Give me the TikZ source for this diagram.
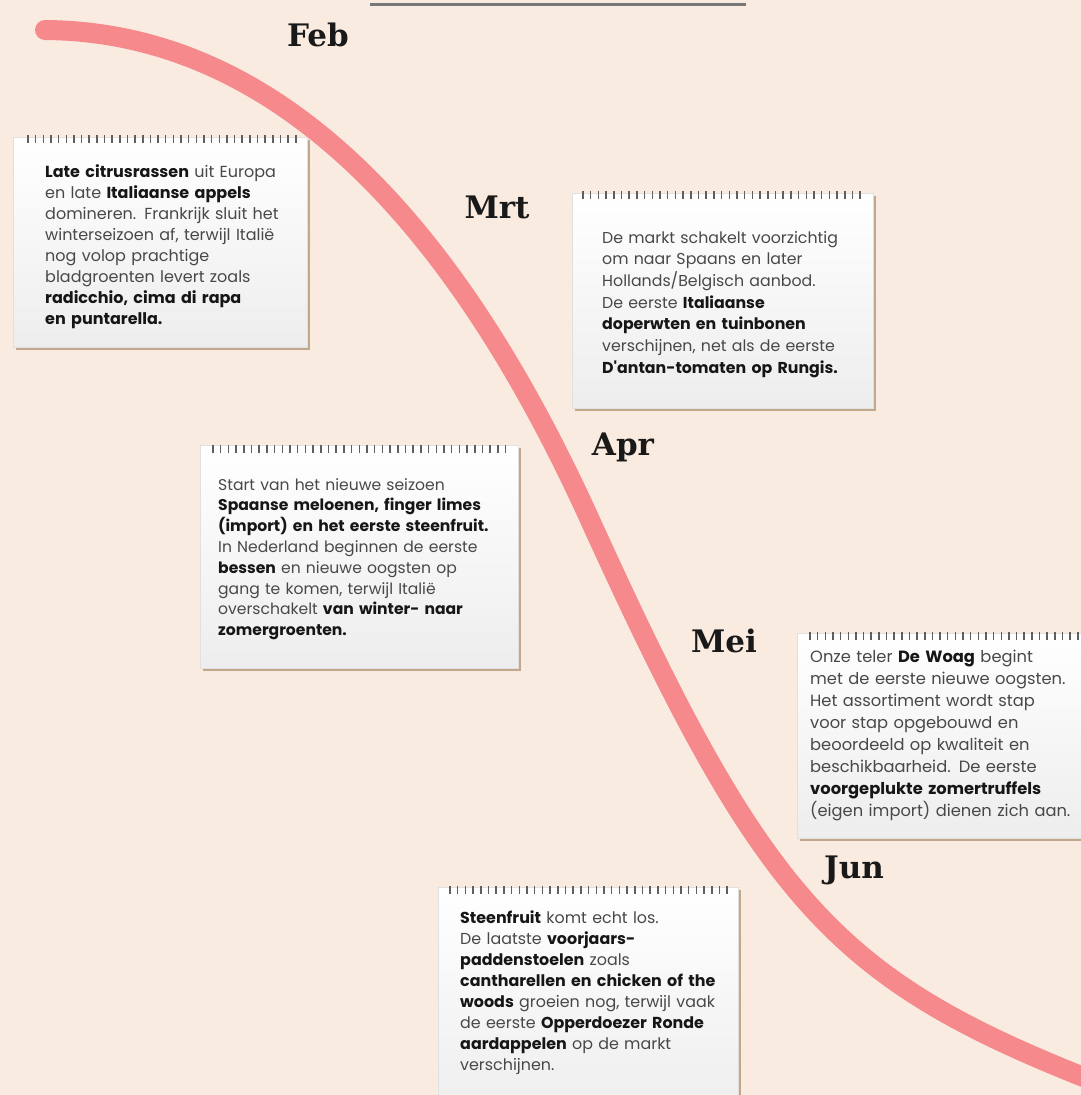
\documentclass[tikz,border=0pt]{standalone}
\usepackage{fontspec}
\usepackage{xcolor}
\usepackage{tikz}
\usetikzlibrary{shadows}
\usetikzlibrary{positioning}

\newfontfamily\kaartfont{Poppins}
\newfontfamily\maandfont{DejaVu Serif}

\definecolor{achtergrond}{RGB}{250,235,225}
\definecolor{lijnroze}{RGB}{245,137,139}
\definecolor{lijngrijs}{RGB}{120,120,120}
\definecolor{ringgrijs}{RGB}{95,95,95}
\definecolor{schaduw}{RGB}{170,140,105}
\definecolor{tekstgrijs}{RGB}{72,72,72}
\definecolor{tekstdonker}{RGB}{22,22,22}

\newcommand{\vet}[1]{\textbf{\color{tekstdonker}#1}}

\tikzset{
  maand/.style={font=\maandfont\bfseries\fontsize{31}{31}\selectfont, text=black!90, anchor=base, inner sep=0pt},
  kaart/.style={anchor=north west, draw=black!12, line width=0.6pt, top color=white, bottom color=black!7,
    drop shadow={shadow xshift=2.5pt, shadow yshift=-3pt, fill=schaduw, opacity=0.7}, inner sep=0pt},
  kaarttekst/.style 2 args={anchor=base west, inner sep=0pt, text width=420pt, align=left,
    text=tekstgrijs, font=\kaartfont\fontsize{#1}{#2}\selectfont},
  ring/.style={draw=ringgrijs, line width=1.5pt},
  seizoen/.style={draw=lijnroze, line width=20pt, line cap=round},
}

\begin{document}
\begin{tikzpicture}[x=1pt, y=-1pt]

       \fill[achtergrond] (0,0) rectangle (1081,1095);
       \useasboundingbox (0,0) rectangle (1081,1095);
       \clip (0,0) rectangle (1081,1095);

       \draw[lijngrijs, line width=3pt] (370,4) -- (746,4);

       % de seizoenslijn
       \draw[seizoen] (45,30) .. controls (320,32) and (490,300) .. (590,520)
                              .. controls (760,894) and (831,976) .. (1081,1076) -- (1121,1092);

       \node[kaart, minimum width=294pt, minimum height=210pt] (kaartfeb) at (13,137) {};
       \node[kaart, minimum width=301pt, minimum height=215pt] (kaartmrt) at (572,193) {};
       \node[kaart, minimum width=318pt, minimum height=223pt] (kaartapr) at (200,445) {};
       \node[kaart, minimum width=300pt, minimum height=205pt] (kaartmei) at (797,633) {};
       \node[kaart, minimum width=300pt, minimum height=230pt] (kaartjun) at (438,887) {};

       \foreach \i in {0,...,35} \draw[ring] ({28+7.65*\i},135) -- ++(0,8);
       \foreach \i in {0,...,36} \draw[ring] ({583+7.7*\i},191) -- ++(0,8);
       \foreach \i in {0,...,38} \draw[ring] ({213+7.7*\i},445) -- ++(0,8);
       \foreach \i in {0,...,35} \draw[ring] ({810+7.65*\i},632) -- ++(0,8);
       \foreach \i in {0,...,36} \draw[ring] ({450+7.7*\i},886) -- ++(0,8);

       \node[kaarttekst={16}{21}] (tekstfeb) at (45,177) {\vet{Late citrusrassen} uit Europa\\
         en late \vet{Italiaanse appels}\\
         domineren. Frankrijk sluit het\\
         winterseizoen af, terwijl Italië\\
         nog volop prachtige\\
         bladgroenten levert zoals\\
         \vet{radicchio, cima di rapa}\\
         \vet{en puntarella.}};
       \node[kaarttekst={15.8}{21.7}] (tekstmrt) at (602,243) {De markt schakelt voorzichtig\\
         om naar Spaans en later\\
         Hollands/Belgisch aanbod.\\
         De eerste \vet{Italiaanse}\\
         \vet{doperwten en tuinbonen}\\
         verschijnen, net als de eerste\\
         \vet{D'antan-tomaten op Rungis.}};
       \node[kaarttekst={15.6}{20.8}] (tekstapr) at (218,490) {Start van het nieuwe seizoen\\
         \vet{Spaanse meloenen, finger limes}\\
         \vet{(import) en het eerste steenfruit.}\\
         In Nederland beginnen de eerste\\
         \vet{bessen} en nieuwe oogsten op\\
         gang te komen, terwijl Italië\\
         overschakelt \vet{van winter- naar}\\
         \vet{zomergroenten.}};
       \node[kaarttekst={16.3}{22.1}] (tekstmei) at (810,662) {Onze teler \vet{De Woag} begint\\
         met de eerste nieuwe oogsten.\\
         Het assortiment wordt stap\\
         voor stap opgebouwd en\\
         beoordeeld op kwaliteit en\\
         beschikbaarheid. De eerste\\
         \vet{voorgeplukte zomertruffels}\\
         (eigen import) dienen zich aan.};
       \node[kaarttekst={15.9}{21}] (tekstjun) at (460,923) {\vet{Steenfruit} komt echt los.\\
         De laatste \vet{voorjaars-}\\
         \vet{paddenstoelen} zoals\\
         \vet{cantharellen en chicken of the}\\
         \vet{woods} groeien nog, terwijl vaak\\
         de eerste \vet{Opperdoezer Ronde}\\
         \vet{aardappelen} op de markt\\
         verschijnen.};

       \node[maand] (feb) at (318,46) {Feb};
       \node[maand] (mrt) at (497,218) {Mrt};
       \node[maand] (apr) at (623,455) {Apr};
       \node[maand] (mei) at (724,652) {Mei};
       \node[maand] (jun) at (854,878) {Jun};

    \end{tikzpicture}
\end{document}
